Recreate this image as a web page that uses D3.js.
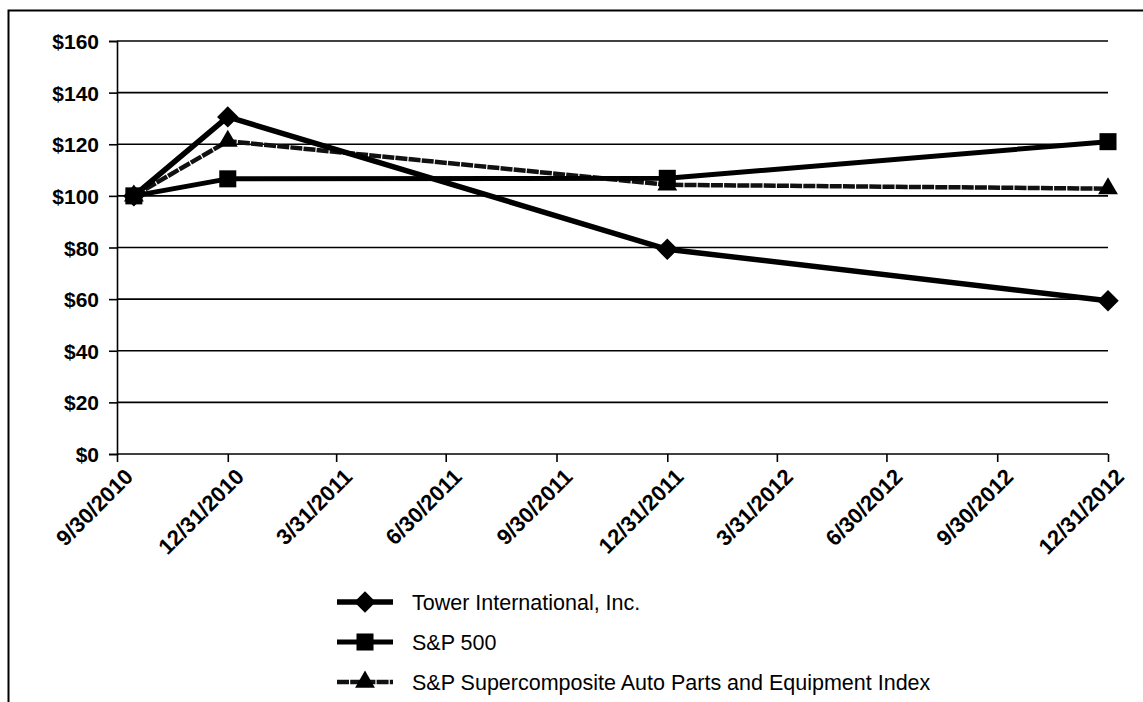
<!DOCTYPE html>
<meta charset="UTF-8">
<style>
body { margin: 0; background: #fff; }
text { font-family: "Liberation Sans", Arial, sans-serif; fill: #000; }
.tick-label { font-size: 21px; font-weight: bold; }
.x-label { font-size: 22px; }
.legend text { font-size: 21.5px; }
</style>
<body>
<script src="https://cdnjs.cloudflare.com/ajax/libs/d3/7.8.5/d3.min.js"></script>
<script>
// data
const dates = ["10/14/2010", "12/31/2010", "12/31/2011", "12/31/2012"];
const tower = [100, 130.6, 79.3, 59.4];
const sp500 = [100, 106.6, 106.8, 121.0];
const autoParts = [100, 121.2, 104.3, 102.8];
const seriesNames = ["Tower International, Inc.", "S&P 500", "S&P Supercomposite Auto Parts and Equipment Index"];
const xTickLabels = ["9/30/2010", "12/31/2010", "3/31/2011", "6/30/2011", "9/30/2011",
  "12/31/2011", "3/31/2012", "6/30/2012", "9/30/2012", "12/31/2012"];
const yTicks = [0, 20, 40, 60, 80, 100, 120, 140, 160];

const W = 1143, H = 702;
const parse = d3.timeParse("%m/%d/%Y");

const svg = d3.select("body").append("svg")
    .attr("width", W)
    .attr("height", H);

// outer frame (only top and left edges show in the scan)
svg.append("path")
    .attr("d", "M8.5,702 V10.5 H1143")
    .attr("fill", "none")
    .attr("stroke", "#000")
    .attr("stroke-width", 2);

const x = d3.scaleTime()
    .domain([parse(xTickLabels[0]), parse(xTickLabels[xTickLabels.length - 1])])
    .range([117, 1108]);
const y = d3.scaleLinear().domain([0, 160]).range([454, 41]);

// gridlines
svg.append("g")
  .selectAll("line")
  .data(yTicks)
  .join("line")
    .attr("x1", x.range()[0])
    .attr("x2", x.range()[1])
    .attr("y1", d => y(d))
    .attr("y2", d => y(d))
    .attr("stroke", "#000")
    .attr("stroke-width", 1.6);

// y axis
const yAxis = svg.append("g")
    .attr("transform", `translate(${x.range()[0]},0)`)
    .call(d3.axisLeft(y).tickValues(yTicks).tickSize(8).tickPadding(10).tickFormat(d => "$" + d));
yAxis.select(".domain").attr("stroke-width", 1.6);
yAxis.selectAll(".tick line").attr("stroke-width", 1.6);
yAxis.selectAll(".tick text").attr("class", "tick-label").attr("dy", "0.36em");

// x axis
const xAxis = svg.append("g")
    .attr("transform", `translate(0,${y(0)})`)
    .call(d3.axisBottom(x).tickValues(xTickLabels.map(parse)).tickSize(8)
      .tickFormat((d, i) => xTickLabels[i]));
xAxis.select(".domain").remove();
xAxis.selectAll(".tick line").attr("stroke-width", 1.6);
xAxis.selectAll(".tick text")
    .attr("class", "tick-label x-label")
    .attr("text-anchor", "end")
    .attr("y", 0)
    .attr("dy", 0)
    .attr("transform", "translate(17,24) rotate(-45)");

// series
const line = d3.line()
    .x((d, i) => x(parse(dates[i])))
    .y(d => y(d));

const series = [
  {name: seriesNames[2], values: autoParts, stroke: "#111", width: 4.5, dash: "12,1.2", symbol: d3.symbolTriangle, size: 170, rotate: 0},
  {name: seriesNames[1], values: sp500, stroke: "#000", width: 5, dash: null, symbol: d3.symbolSquare, size: 290, rotate: 0},
  {name: seriesNames[0], values: tower, stroke: "#000", width: 5.5, dash: null, symbol: d3.symbolSquare, size: 230, rotate: 45}
];

series.forEach(s => {
  svg.append("path")
      .attr("d", line(s.values))
      .attr("fill", "none")
      .attr("stroke", s.stroke)
      .attr("stroke-width", s.width)
      .attr("stroke-dasharray", s.dash)
      .attr("stroke-linejoin", "round");
  svg.append("g")
    .selectAll("path")
    .data(s.values)
    .join("path")
      .attr("d", d3.symbol(s.symbol, s.size))
      .attr("transform", (d, i) => `translate(${x(parse(dates[i]))},${y(d)}) rotate(${s.rotate})`)
      .attr("fill", "#000");
});

// legend
const legend = svg.append("g").attr("class", "legend");
const legendOrder = [series[2], series[1], series[0]];
legendOrder.forEach((s, i) => {
  const ly = 602 + i * 40;
  legend.append("line")
      .attr("x1", 337).attr("x2", 393)
      .attr("y1", ly).attr("y2", ly)
      .attr("stroke", s.stroke)
      .attr("stroke-width", s.width)
      .attr("stroke-dasharray", s.dash);
  legend.append("path")
      .attr("d", d3.symbol(s.symbol, s.size))
      .attr("transform", `translate(365,${ly}) rotate(${s.rotate})`)
      .attr("fill", "#000");
  legend.append("text")
      .attr("x", 412)
      .attr("y", ly)
      .attr("dy", "0.36em")
      .text(s.name);
});
</script>
</body>
